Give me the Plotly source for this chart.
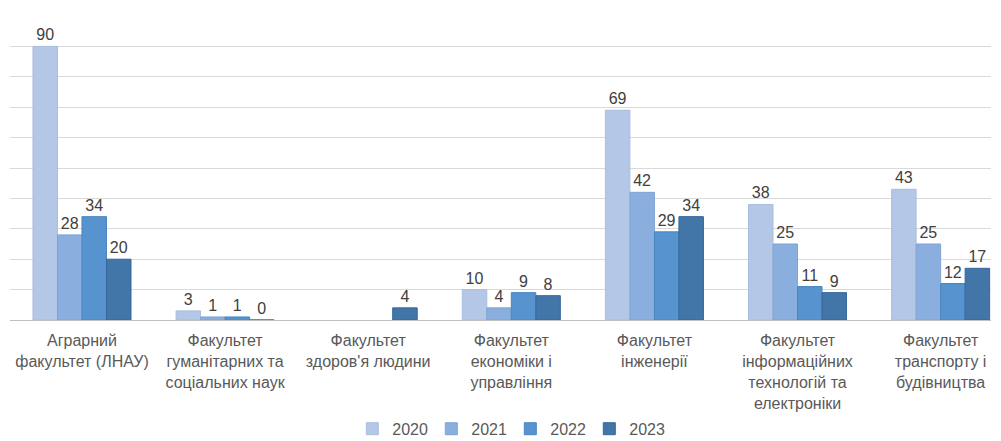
import plotly.graph_objects as go

categories = [
    "Аграрний<br>факультет (ЛНАУ)",
    "Факультет<br>гуманітарних та<br>соціальних наук",
    "Факультет<br>здоров'я людини",
    "Факультет<br>економіки і<br>управління",
    "Факультет<br>інженерії",
    "Факультет<br>інформаційних<br>технологій та<br>електроніки",
    "Факультет<br>транспорту і<br>будівництва",
]
series_names = ["2020", "2021", "2022", "2023"]
v2020 = [90, 3, None, 10, 69, 38, 43]
v2021 = [28, 1, None, 4, 42, 25, 25]
v2022 = [34, 1, None, 9, 29, 11, 12]
v2023 = [20, 0, 4, 8, 34, 9, 17]
values = [v2020, v2021, v2022, v2023]
colors = ["#B4C7E7", "#8AAFDF", "#5693CF", "#4275A8"]
lines = ["#A9BEDF", "#7FA3D3", "#4A86C2", "#37679A"]

fig = go.Figure()
for name, vals, c, lc in zip(series_names, values, colors, lines):
    fig.add_trace(go.Bar(
        name=name, x=categories, y=vals,
        marker=dict(color=c, line=dict(color=lc, width=1)),
        text=[("" if v is None else str(v)) for v in vals],
        textposition="outside", cliponaxis=False,
        textfont=dict(size=16, color="#404040"),
    ))

fig.update_layout(
    width=985, height=433,
    margin=dict(l=2, r=2, t=8, b=121, autoexpand=False),
    paper_bgcolor="white", plot_bgcolor="white",
    barmode="group", bargap=0.315, bargroupgap=0,
    font=dict(family="Liberation Sans, Arial, sans-serif", color="#595959"),
    legend=dict(orientation="h", x=0.51, xanchor="center", y=-0.302, yanchor="top",
                font=dict(size=16, color="#595959"), entrywidth=34,
                entrywidthmode="pixels", tracegroupgap=0),
)
fig.update_yaxes(range=[0, 100], dtick=10, showticklabels=False,
                 showgrid=True, gridcolor="#D9D9D9", gridwidth=1, zeroline=False,
                 showline=False, automargin=False)
fig.update_xaxes(showline=True, linecolor="#BFBFBF", linewidth=1,
                 range=[-0.503, 6.352], automargin=False, ticklabelstandoff=6,
                 tickfont=dict(size=16, color="#595959"), ticks="")
fig.write_html("out.html")
